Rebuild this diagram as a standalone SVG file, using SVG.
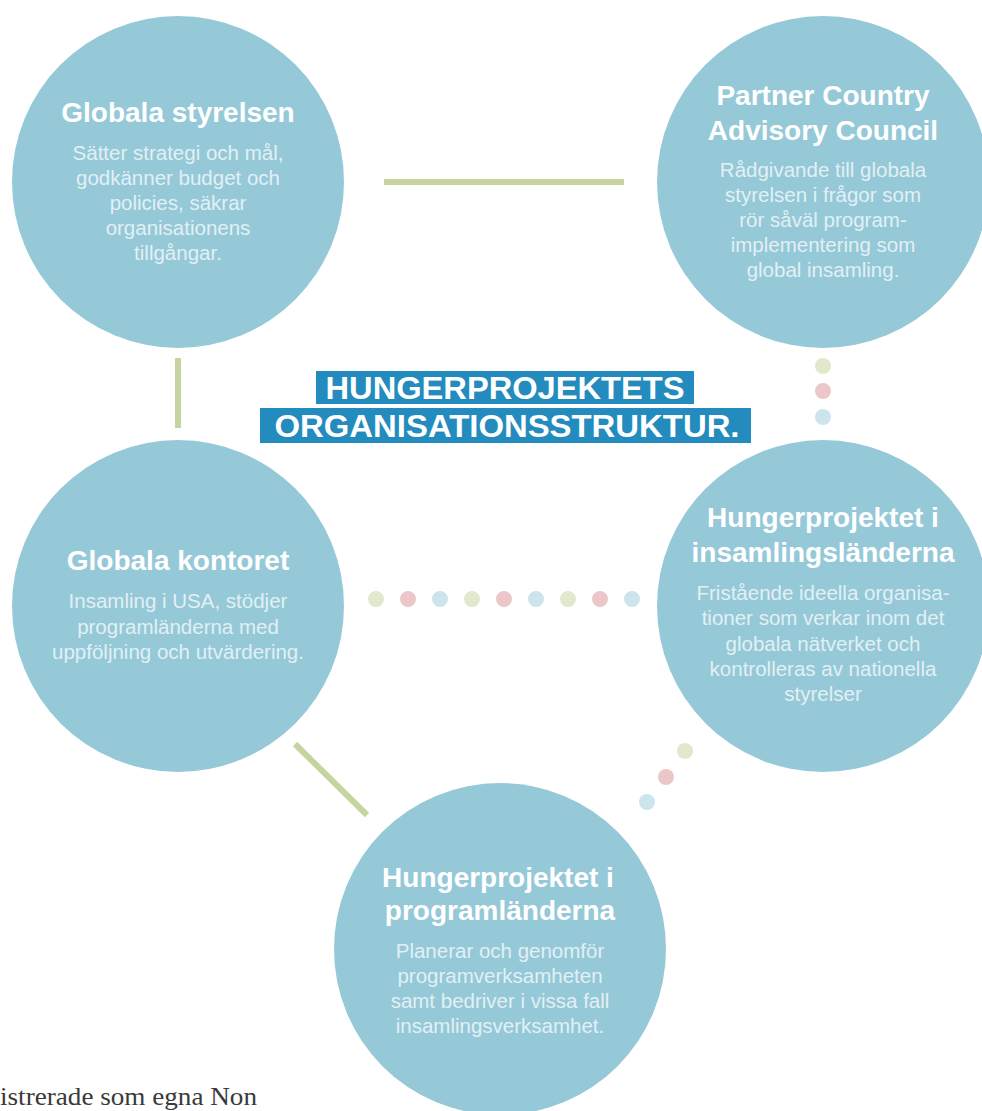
<svg xmlns="http://www.w3.org/2000/svg" width="982" height="1111" viewBox="0 0 982 1111">
<style>
.c{fill:#95c9d8}
.h{font-family:"Liberation Sans",Arial,sans-serif;font-weight:bold;font-size:28px;fill:#ffffff;text-anchor:middle}
.b{font-family:"Liberation Sans",Arial,sans-serif;font-size:20.5px;fill:#e2f0f4;text-anchor:middle}
.ln{stroke:#c6d4a0;stroke-width:6;fill:none}
.dg{fill:#e2e8cc}
.dp{fill:#ecc7c9}
.db{fill:#cce5ec}
.t{font-family:"Liberation Sans",Arial,sans-serif;font-weight:bold;font-size:31px;fill:#ffffff;text-anchor:middle}
</style>
<rect width="982" height="1111" fill="#ffffff"/>
<g id="connectors">
<line class="ln" x1="384" y1="182" x2="624" y2="182"/>
<line class="ln" x1="178" y1="358" x2="178" y2="428"/>
<line class="ln" x1="295" y1="744" x2="367" y2="815"/>
<circle class="dg" cx="823" cy="366" r="8"/>
<circle class="dp" cx="823" cy="391" r="8"/>
<circle class="db" cx="823" cy="417" r="8"/>
<circle class="dg" cx="376" cy="599" r="8"/>
<circle class="dp" cx="408" cy="599" r="8"/>
<circle class="db" cx="440" cy="599" r="8"/>
<circle class="dg" cx="472" cy="599" r="8"/>
<circle class="dp" cx="504" cy="599" r="8"/>
<circle class="db" cx="536" cy="599" r="8"/>
<circle class="dg" cx="568" cy="599" r="8"/>
<circle class="dp" cx="600" cy="599" r="8"/>
<circle class="db" cx="632" cy="599" r="8"/>
<circle class="dg" cx="685" cy="751" r="8"/>
<circle class="dp" cx="666" cy="777" r="8"/>
<circle class="db" cx="647" cy="802" r="8"/>
</g>
<g id="title">
<rect x="316" y="371" width="378" height="33" fill="#238bbd"/>
<rect x="260" y="408" width="491" height="35" fill="#238bbd"/>
<text class="t" x="505" y="399" textLength="359" lengthAdjust="spacingAndGlyphs">HUNGERPROJEKTETS</text>
<text class="t" x="507" y="437" textLength="465" lengthAdjust="spacingAndGlyphs">ORGANISATIONSSTRUKTUR.</text>
</g>
<g id="globala-styrelsen">
<circle class="c" cx="178" cy="182" r="166"/>
<text class="h" x="178" y="122">Globala styrelsen</text>
<text class="b" x="178" y="160">Sätter strategi och mål,</text>
<text class="b" x="178" y="185">godkänner budget och</text>
<text class="b" x="178" y="210">policies, säkrar</text>
<text class="b" x="178" y="235">organisationens</text>
<text class="b" x="178" y="260">tillgångar.</text>
</g>
<g id="partner-country">
<circle class="c" cx="823" cy="182" r="166"/>
<text class="h" x="823" y="105">Partner Country</text>
<text class="h" x="823" y="140">Advisory Council</text>
<text class="b" x="823" y="177">Rådgivande till globala</text>
<text class="b" x="823" y="202">styrelsen i frågor som</text>
<text class="b" x="823" y="227">rör såväl program-</text>
<text class="b" x="823" y="252">implementering som</text>
<text class="b" x="823" y="277">global insamling.</text>
</g>
<g id="globala-kontoret">
<circle class="c" cx="178" cy="606" r="166"/>
<text class="h" x="178" y="570">Globala kontoret</text>
<text class="b" x="178" y="608">Insamling i USA, stödjer</text>
<text class="b" x="178" y="634">programländerna med</text>
<text class="b" x="178" y="659">uppföljning och utvärdering.</text>
</g>
<g id="insamlingslanderna">
<circle class="c" cx="823" cy="606" r="166"/>
<text class="h" x="823" y="527">Hungerprojektet i</text>
<text class="h" x="823" y="562">insamlingsländerna</text>
<text class="b" x="823" y="600">Fristående ideella organisa-</text>
<text class="b" x="823" y="625">tioner som verkar inom det</text>
<text class="b" x="823" y="651">globala nätverket och</text>
<text class="b" x="823" y="676">kontrolleras av nationella</text>
<text class="b" x="823" y="701">styrelser</text>
</g>
<g id="programlanderna">
<circle class="c" cx="500" cy="949" r="166"/>
<text class="h" x="498" y="887">Hungerprojektet i</text>
<text class="h" x="500" y="920">programländerna</text>
<text class="b" x="500" y="958">Planerar och genomför</text>
<text class="b" x="500" y="983">programverksamheten</text>
<text class="b" x="500" y="1008">samt bedriver i vissa fall</text>
<text class="b" x="500" y="1033">insamlingsverksamhet.</text>
</g>
<text x="0" y="1105" font-family="'Liberation Serif','Times New Roman',serif" font-size="25" fill="#3a3a3a" textLength="257" lengthAdjust="spacingAndGlyphs">istrerade som egna Non</text>
</svg>
